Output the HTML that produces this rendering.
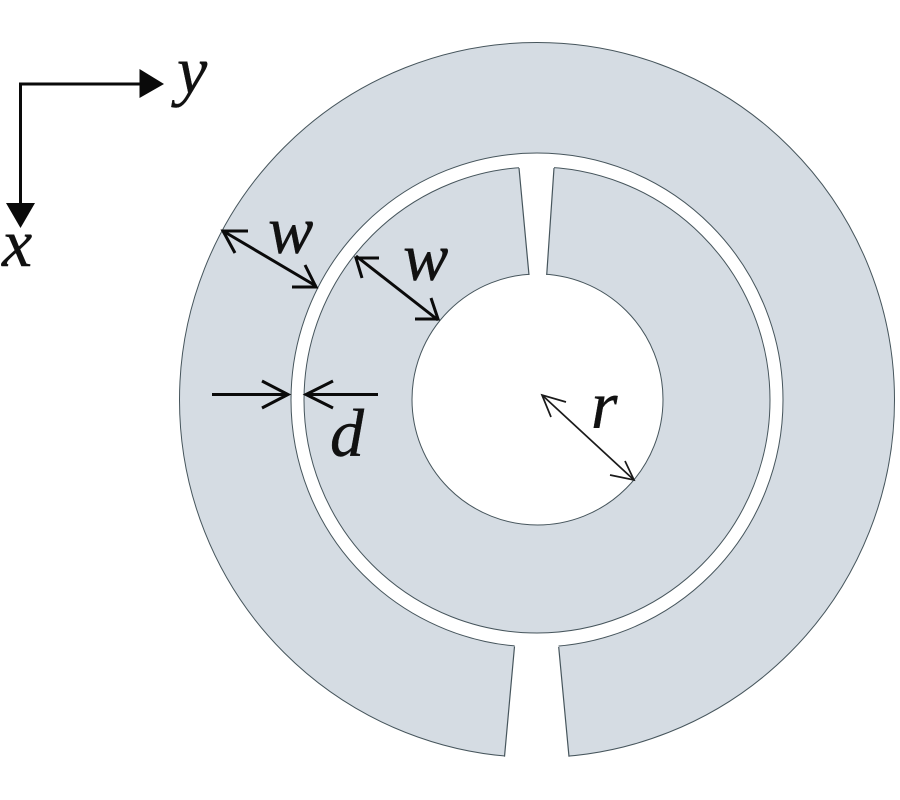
<!DOCTYPE html>
<html>
<head>
<meta charset="utf-8">
<style>
html,body{margin:0;padding:0;background:#fff;}
svg{display:block;}
text{font-family:"Liberation Serif",serif;font-style:italic;fill:#111;stroke:#111;stroke-width:0.4;}
</style>
</head>
<body>
<svg width="900" height="800" viewBox="0 0 900 800" xmlns="http://www.w3.org/2000/svg">
<rect width="900" height="800" fill="#fff"/>
<!-- outer split ring -->
<circle cx="537" cy="400" r="357.5" fill="#d5dce3" stroke="#46555c" stroke-width="1"/>
<ellipse cx="537" cy="400" rx="246" ry="247" fill="#fff" stroke="#46555c" stroke-width="1"/>
<path d="M515.1 640 L558 640 L569.8 765 L503.7 765 Z" fill="#fff"/>
<path d="M514.5 646.5 L504.5 756.7 M558.7 647 L569 756.7" fill="none" stroke="#46555c" stroke-width="1.2"/>
<!-- inner split ring -->
<circle cx="537" cy="400" r="233" fill="#d5dce3" stroke="#46555c" stroke-width="1"/>
<circle cx="537.5" cy="399.5" r="125.5" fill="#fff" stroke="#46555c" stroke-width="1"/>
<path d="M518.3 160 L554.5 160 L546.3 282 L529.6 282 Z" fill="#fff"/>
<path d="M519 168 L529 275 M554 168 L546.7 275" fill="none" stroke="#46555c" stroke-width="1.2"/>
<!-- axes -->
<path d="M142 84 H20.5 V205" fill="none" stroke="#0a0a0a" stroke-width="3"/>
<path d="M139.5 69 L164 84 L139.5 98 Z" fill="#0a0a0a"/>
<path d="M6 203 H35 L20.5 228 Z" fill="#0a0a0a"/>
<!-- dimension arrows -->
<g stroke="#0a0a0a" stroke-width="3" fill="none">
<path d="M223 231 L316 286"/>
<path d="M248 231 H223 L235 253"/>
<path d="M292 287 H316 L305 265"/>
<path d="M356 256 L438 320"/>
<path d="M379 258 H356 L362 278"/>
<path d="M415 319 H438 L431 298"/>
<path d="M212 394.5 H288"/>
<path d="M262 381 L288 394.5 L262 408"/>
<path d="M378 394.5 H306"/>
<path d="M333 381 L306 394.5 L333 408"/>
</g>
<g stroke="#1a1a1a" stroke-width="1.7" fill="none">
<path d="M542 395 L634 480"/>
<path d="M566 402 L542 395 L551 417"/>
<path d="M610 475 L634 480 L625 461"/>
</g>
<!-- labels -->
<text x="177" y="93" font-size="68">y</text>
<text x="2" y="266" font-size="68">x</text>
<text x="268" y="253" font-size="68">w</text>
<text x="403" y="280" font-size="68">w</text>
<text x="330" y="456" font-size="68">d</text>
<text x="591" y="428" font-size="68">r</text>
</svg>
</body>
</html>
